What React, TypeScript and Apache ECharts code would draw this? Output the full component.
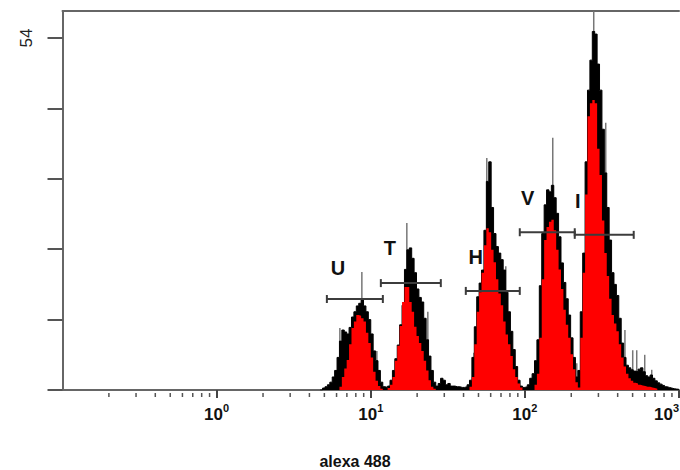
import React, { useEffect, useRef } from "react";
import * as echarts from "echarts";

// Histogram bins on a log10 scale: 64 bins per decade, first listed bin starts at log10 = 107/64 - 1
const BIN_START_LOG = 107 / 64 - 1;
const BIN_WIDTH_LOG = 1 / 64;

// Outer (black) histogram counts
const blackCounts = [
  0, 0.3, 0.5, 0.8, 1.2, 2.0, 3.0, 5.0, 7.5, 9.2,
  8.9, 8.6, 9.6, 11.2, 12.0, 12.9, 13.3, 13.8, 12.9, 12.0,
  10.8, 8.6, 6.0, 4.5, 3.0, 1.2, 0.5, 0.4, 0.6, 1.5,
  3.0, 4.8, 6.9, 10.0, 13.0, 18.5, 21.5, 21.8, 20.2, 18.0,
  15.5, 14.2, 13.5, 11.0, 7.7, 5.2, 3.0, 1.2, 0.6, 1.0,
  1.8, 1.5, 0.8, 1.0, 0.6, 0.6, 0.5, 0.5, 0.4, 0.4,
  0.5, 0.8, 1.5, 5.0, 9.7, 14.3, 16.4, 18.4, 24.5, 32.0,
  35.0, 28.0, 24.0, 22.0, 21.0, 20.0, 18.4, 15.0, 12.0, 9.0,
  6.2, 3.6, 1.5, 0.6, 0.4, 0.5, 0.8, 1.8, 2.5, 4.5,
  7.7, 16.0, 24.0, 28.4, 30.7, 30.4, 31.4, 29.5, 27.1, 23.5,
  19.5, 16.5, 14.0, 11.5, 8.0, 5.0, 2.0, 3.0, 12.0, 21.0,
  35.0, 46.0, 50.6, 55.0, 54.6, 50.0, 46.0, 40.0, 33.3, 28.0,
  23.0, 18.0, 16.2, 14.5, 11.0, 7.2, 5.0, 3.8, 3.4, 3.1,
  2.9, 2.8, 3.2, 3.4, 2.8, 2.2, 2.0, 2.3, 1.8, 1.4,
  1.1, 0.9, 0.7, 0.5, 0.4, 0.3, 0.2, 0.15, 0.1,
];

// Inner (red) histogram counts, same bins
const redCounts = [
  0, 0, 0, 0, 0, 0, 0, 0, 0.5, 2.0,
  3.3, 4.6, 7.0, 9.5, 10.5, 11.5, 11.4, 11.0, 10.5, 8.8,
  7.2, 5.0, 2.8, 1.4, 0.6, 0.2, 0, 0, 0.3, 0.8,
  2.0, 4.5, 6.8, 9.8, 13.5, 15.8, 15.8, 13.5, 12.0, 9.7,
  8.3, 7.2, 6.0, 4.5, 3.0, 1.5, 0.5, 0.2, 0, 0,
  0, 0, 0, 0, 0, 0, 0, 0, 0, 0,
  0, 0, 0.5, 2.0, 7.0, 12.0, 15.0, 18.0, 22.2, 24.8,
  24.2, 21.5, 19.6, 17.0, 14.8, 13.0, 10.5, 8.5, 7.0, 5.2,
  3.2, 2.0, 1.0, 0.4, 0, 0, 0, 0, 0, 0.8,
  2.5, 8.0, 17.0, 23.0, 25.0, 25.8, 26.1, 24.5, 21.5, 18.5,
  15.5, 12.3, 10.0, 8.0, 5.5, 3.2, 1.2, 0.4, 8.0, 18.0,
  30.0, 42.0, 44.0, 44.5, 44.0, 37.0, 33.0, 26.0, 21.0, 17.5,
  14.0, 11.5, 10.2, 9.0, 7.0, 5.0, 3.6, 2.5, 1.8, 1.4,
  1.1, 1.0, 0.8, 0.7, 0.6, 0.5, 0.5, 0.4, 0.3, 0.2,
  0, 0, 0, 0, 0, 0, 0, 0, 0,
];

// Single-channel spikes (thin grey lines) : log10 position and count
const spikeLog = [0.7996, 0.9423, 1.0396, 1.2341, 1.3703, 1.6686, 1.7529, 1.8761, 2.1809, 2.3366, 2.4468, 2.5246, 2.6492, 2.6997, 2.7257, 2.7776, 2.823];
const spikeCounts = [9.5, 18.1, 6.0, 25.6, 12.0, 5.7, 35.6, 19.0, 38.7, 4.1, 58.1, 41.0, 9.2, 6.1, 6.1, 5.4, 3.1];

// Gates (markers)
const gateNames = ["U", "T", "H", "V", "I"];
const gateFromLog = [0.7153, 1.0655, 1.6167, 1.9669, 2.3236];
const gateToLog = [1.0785, 1.4546, 1.9669, 2.3236, 2.7062];
const gateLevel = [13.96, 16.4, 15.2, 24.2, 23.8];
const gateLabelLog = [0.7866, 1.1239, 1.6816, 2.0188, 2.3431];
const gateLabelLevel = [18.7, 21.8, 20.4, 29.4, 29.0];

// Axes
const xMinLog = -1;
const xMaxLog = 3;
const xTickExponents = [0, 1, 2, 3];
const minorMantissas = [2, 3, 4, 5, 6, 7, 8, 9];
const minorDecades = [-1, 0, 1, 2];
const yMax = 58.14;
const yTicks = [0, 10.8, 21.6, 32.4, 43.2, 54];
const yLabelValues = [54];
const xAxisTitle = "alexa 488";

function stepData(counts: number[]) {
  const pts: number[][] = counts.map((c, i) => [BIN_START_LOG + i * BIN_WIDTH_LOG, c]);
  pts.push([BIN_START_LOG + counts.length * BIN_WIDTH_LOG, 0]);
  return pts;
}

export default function App() {
  const ref = useRef<HTMLDivElement>(null);

  useEffect(() => {
    if (!ref.current) return;
    const chart = echarts.init(ref.current, undefined, { renderer: "svg" });

    const minorTicks: number[][] = [];
    minorDecades.forEach((d) => minorMantissas.forEach((m) => minorTicks.push([Math.log10(m) + d, 0])));

    const axisColor = "#666";
    const font = "'Liberation Sans', Arial, sans-serif";

    const option: any = {
      animation: false,
      grid: { left: 62.5, top: 11, right: 1, bottom: 80, containLabel: false, outerBoundsMode: "none" },
      xAxis: [
        {
          type: "value",
          min: xMinLog,
          max: xMaxLog,
          interval: 1,
          position: "bottom",
          axisLine: { show: true, onZero: false, lineStyle: { color: axisColor, width: 2 } },
          axisTick: { show: true, customValues: xTickExponents, length: 8, lineStyle: { color: "#444", width: 2 } },
          axisLabel: {
            customValues: xTickExponents,
            margin: 12,
            hideOverlap: false,
            alignMaxLabel: "right",
            formatter: (v: number) => (v < 0 ? "" : `{b|10}{s|${v}}`),
            rich: {
              b: { fontSize: 17, fontWeight: "bold", fontFamily: font, color: "#111", padding: [4, 0, 0, 0] },
              s: { fontSize: 11, fontWeight: "bold", fontFamily: font, color: "#111", verticalAlign: "top" },
            },
          },
          splitLine: { show: false },
        },
        {
          type: "value",
          min: xMinLog,
          max: xMaxLog,
          position: "top",
          axisLine: { show: true, onZero: false, lineStyle: { color: axisColor, width: 2 } },
          axisTick: { show: false },
          axisLabel: { show: false },
          splitLine: { show: false },
        },
      ],
      yAxis: {
        type: "value",
        min: 0,
        max: yMax,
        axisLine: { show: true, onZero: false, lineStyle: { color: axisColor, width: 2 } },
        axisTick: { show: true, customValues: yTicks, length: 15, lineStyle: { color: "#555", width: 2 } },
        axisLabel: {
          customValues: yLabelValues,
          rotate: 90,
          margin: 28,
          fontSize: 17,
          fontFamily: "'Liberation Sans Narrow', 'Liberation Sans', Arial, sans-serif",
          color: "#222",
        },
        splitLine: { show: false },
      },
      graphic: [
        {
          type: "text",
          x: 355,
          y: 461,
          style: {
            text: xAxisTitle,
            font: `bold 16px ${font}`,
            fill: "#111",
            align: "center",
            verticalAlign: "middle",
          },
        },
      ],
      series: [
        {
          name: "spikes",
          type: "custom",
          z: 1,
          silent: true,
          data: spikeLog.map((x, i) => [x, spikeCounts[i]]),
          renderItem: (params: any, api: any) => {
            const p0 = api.coord([api.value(0), 0]);
            const p1 = api.coord([api.value(0), api.value(1)]);
            return {
              type: "line",
              shape: { x1: p0[0], y1: p0[1], x2: p1[0], y2: p1[1] },
              style: { stroke: "#777", lineWidth: 1.5 },
            };
          },
        },
        {
          name: "outer",
          type: "line",
          step: "end",
          z: 2,
          silent: true,
          symbol: "none",
          data: stepData(blackCounts),
          lineStyle: { color: "#000", width: 1 },
          areaStyle: { color: "#000", opacity: 1 },
        },
        {
          name: "inner",
          type: "line",
          step: "end",
          z: 3,
          silent: true,
          symbol: "none",
          data: stepData(redCounts),
          lineStyle: { width: 0, color: "#ff0000" },
          areaStyle: { color: "#ff0000", opacity: 1 },
        },
        {
          name: "minorTicks",
          type: "custom",
          z: 2,
          silent: true,
          data: minorTicks,
          renderItem: (params: any, api: any) => {
            const p = api.coord([api.value(0), 0]);
            return {
              type: "line",
              shape: { x1: p[0], y1: p[1] + 3, x2: p[0], y2: p[1] + 7 },
              style: { stroke: "#555", lineWidth: 1.5 },
            };
          },
        },
        {
          name: "gates",
          type: "custom",
          z: 4,
          silent: true,
          data: gateFromLog.map((f, i) => [f, gateToLog[i], gateLevel[i]]),
          renderItem: (params: any, api: any) => {
            const a = api.coord([api.value(0), api.value(2)]);
            const b = api.coord([api.value(1), api.value(2)]);
            const st = { stroke: "#3c3c3c", lineWidth: 2 };
            return {
              type: "group",
              children: [
                { type: "line", shape: { x1: a[0], y1: a[1], x2: b[0], y2: b[1] }, style: st },
                { type: "line", shape: { x1: a[0], y1: a[1] - 4, x2: a[0], y2: a[1] + 4 }, style: st },
                { type: "line", shape: { x1: b[0], y1: b[1] - 4, x2: b[0], y2: b[1] + 4 }, style: st },
              ],
            };
          },
        },
        {
          name: "gateLabels",
          type: "custom",
          z: 5,
          silent: true,
          data: gateLabelLog.map((x, i) => [x, gateLabelLevel[i]]),
          renderItem: (params: any, api: any) => {
            const p = api.coord([api.value(0), api.value(1)]);
            return {
              type: "text",
              x: p[0],
              y: p[1],
              style: {
                text: gateNames[params.dataIndex],
                font: `bold 20px ${font}`,
                fill: "#111",
                align: "center",
                verticalAlign: "middle",
              },
            };
          },
        },
      ],
    };

    chart.setOption(option);
    return () => chart.dispose();
  }, []);

  return (
    <div
      ref={ref}
      style={{ position: "fixed", left: 0, top: 0, width: 680, height: 470, background: "#fff" }}
    />
  );
}
